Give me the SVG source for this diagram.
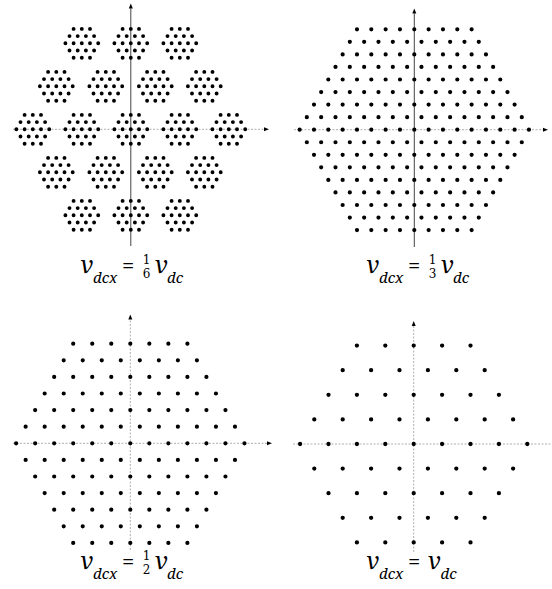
<svg xmlns="http://www.w3.org/2000/svg" xmlns:xlink="http://www.w3.org/1999/xlink" width="552" height="589" viewBox="0 0 552 589">
<style>
.d1{stroke:#000;stroke-width:3.9;stroke-linecap:round;stroke-dasharray:0 8.2;fill:none}
.d2{stroke:#000;stroke-width:4.2;stroke-linecap:round;stroke-dasharray:0 14.33;fill:none}
.d3{stroke:#000;stroke-width:4.2;stroke-linecap:round;stroke-dasharray:0 19.03;fill:none}
.d4{stroke:#000;stroke-width:4.3;stroke-linecap:round;stroke-dasharray:0 28.4;fill:none}
.axd{stroke:#444;stroke-width:1;fill:none}
.axl{stroke:#999;stroke-width:0.8;stroke-dasharray:2 1.5;fill:none}
.fr{font-family:'DejaVu Serif',serif;font-size:12px;text-anchor:middle}
</style>
<defs>
<marker id="ar" markerUnits="userSpaceOnUse" markerWidth="6" markerHeight="6" refX="0" refY="0" viewBox="0 -3 6 6" orient="auto" overflow="visible">
<path d="M0,-2 L5,0 L0,2 Z" fill="#000"/>
</marker>
<g id="cl">
<line class="d1" x1="-8.2" y1="-14.4" x2="8.7" y2="-14.4"/>
<line class="d1" x1="-12.3" y1="-7.2" x2="12.8" y2="-7.2"/>
<line class="d1" x1="-16.4" y1="0" x2="16.9" y2="0"/>
<line class="d1" x1="-12.3" y1="7.2" x2="12.8" y2="7.2"/>
<line class="d1" x1="-8.2" y1="14.4" x2="8.7" y2="14.4"/>
</g>
</defs>

<g id="connectors">
<line class="axl" x1="13" y1="129.3" x2="264" y2="129.3" marker-end="url(#ar)"/>
<line class="axd" x1="130.8" y1="246" x2="130.8" y2="8.5" marker-end="url(#ar)"/>
<line class="axl" x1="294" y1="129.7" x2="543" y2="129.7" marker-end="url(#ar)"/>
<line class="axd" x1="414.3" y1="247" x2="414.3" y2="13.5" marker-end="url(#ar)"/>
<line class="axl" x1="13" y1="443.3" x2="267" y2="443.3" marker-end="url(#ar)"/>
<line class="axl" x1="130.3" y1="550" x2="130.3" y2="319.5" marker-end="url(#ar)"/>
<line class="axl" x1="293" y1="444" x2="552" y2="444"/>
<line class="axl" x1="413.7" y1="552" x2="413.7" y2="326" marker-end="url(#ar)"/>
</g>

<g id="panel1">
<use xlink:href="#cl" x="81.8" y="43.3"/>
<use xlink:href="#cl" x="130.8" y="43.3"/>
<use xlink:href="#cl" x="179.8" y="43.3"/>
<use xlink:href="#cl" x="56.3" y="86.3"/>
<use xlink:href="#cl" x="105.8" y="86.3"/>
<use xlink:href="#cl" x="155.3" y="86.3"/>
<use xlink:href="#cl" x="204.3" y="86.3"/>
<use xlink:href="#cl" x="32.8" y="129.3"/>
<use xlink:href="#cl" x="81.8" y="129.3"/>
<use xlink:href="#cl" x="130.8" y="129.3"/>
<use xlink:href="#cl" x="179.8" y="129.3"/>
<use xlink:href="#cl" x="228.8" y="129.3"/>
<use xlink:href="#cl" x="56.3" y="172.3"/>
<use xlink:href="#cl" x="105.8" y="172.3"/>
<use xlink:href="#cl" x="155.3" y="172.3"/>
<use xlink:href="#cl" x="204.3" y="172.3"/>
<use xlink:href="#cl" x="81.8" y="215.3"/>
<use xlink:href="#cl" x="130.8" y="215.3"/>
<use xlink:href="#cl" x="179.8" y="215.3"/>
</g>

<g id="panel2">
<line class="d2" x1="356.98" y1="29.3" x2="472.4" y2="29.3"/>
<line class="d2" x1="349.82" y1="41.85" x2="479.6" y2="41.85"/>
<line class="d2" x1="342.65" y1="54.4" x2="486.8" y2="54.4"/>
<line class="d2" x1="335.49" y1="66.95" x2="493.9" y2="66.95"/>
<line class="d2" x1="328.32" y1="79.5" x2="501.1" y2="79.5"/>
<line class="d2" x1="321.16" y1="92.05" x2="508.3" y2="92.05"/>
<line class="d2" x1="313.99" y1="104.6" x2="515.4" y2="104.6"/>
<line class="d2" x1="306.83" y1="117.15" x2="522.6" y2="117.15"/>
<line class="d2" x1="299.66" y1="129.7" x2="529.7" y2="129.7"/>
<line class="d2" x1="306.83" y1="142.25" x2="522.6" y2="142.25"/>
<line class="d2" x1="313.99" y1="154.8" x2="515.4" y2="154.8"/>
<line class="d2" x1="321.16" y1="167.35" x2="508.3" y2="167.35"/>
<line class="d2" x1="328.32" y1="179.9" x2="501.1" y2="179.9"/>
<line class="d2" x1="335.49" y1="192.45" x2="493.9" y2="192.45"/>
<line class="d2" x1="342.65" y1="205" x2="486.8" y2="205"/>
<line class="d2" x1="349.82" y1="217.55" x2="479.6" y2="217.55"/>
<line class="d2" x1="356.98" y1="230.1" x2="472.4" y2="230.1"/>
</g>

<g id="panel3">
<line class="d3" x1="73.21" y1="343.7" x2="188.2" y2="343.7"/>
<line class="d3" x1="63.70" y1="360.3" x2="197.7" y2="360.3"/>
<line class="d3" x1="54.18" y1="376.9" x2="207.2" y2="376.9"/>
<line class="d3" x1="44.67" y1="393.5" x2="216.7" y2="393.5"/>
<line class="d3" x1="35.15" y1="410.1" x2="226.2" y2="410.1"/>
<line class="d3" x1="25.64" y1="426.7" x2="235.8" y2="426.7"/>
<line class="d3" x1="16.12" y1="443.3" x2="245.3" y2="443.3"/>
<line class="d3" x1="25.64" y1="459.9" x2="235.8" y2="459.9"/>
<line class="d3" x1="35.15" y1="476.5" x2="226.2" y2="476.5"/>
<line class="d3" x1="44.67" y1="493.1" x2="216.7" y2="493.1"/>
<line class="d3" x1="54.18" y1="509.7" x2="207.2" y2="509.7"/>
<line class="d3" x1="63.70" y1="526.3" x2="197.7" y2="526.3"/>
<line class="d3" x1="73.21" y1="542.9" x2="188.2" y2="542.9"/>
</g>

<g id="panel4">
<line class="d4" x1="356.9" y1="345.6" x2="471.3" y2="345.6"/>
<line class="d4" x1="342.7" y1="370.2" x2="485.5" y2="370.2"/>
<line class="d4" x1="328.5" y1="394.8" x2="499.7" y2="394.8"/>
<line class="d4" x1="314.3" y1="419.4" x2="513.9" y2="419.4"/>
<line class="d4" x1="300.1" y1="444" x2="528.1" y2="444"/>
<line class="d4" x1="314.3" y1="468.6" x2="513.9" y2="468.6"/>
<line class="d4" x1="328.5" y1="493.2" x2="499.7" y2="493.2"/>
<line class="d4" x1="342.7" y1="517.8" x2="485.5" y2="517.8"/>
<line class="d4" x1="356.9" y1="542.4" x2="471.3" y2="542.4"/>
</g>

<g id="label1" font-family="'Noto Serif', 'DejaVu Serif', serif" fill="#000">
<text font-style="italic" font-size="24"><tspan x="80.5" y="273">v</tspan><tspan font-size="15" x="93" y="282.5">dcx</tspan></text>
<text font-size="22" x="122" y="273">=</text>
<text class="fr" x="146.5" y="263.5">1</text>
<text class="fr" x="146.5" y="278">6</text>
<text font-style="italic" font-size="24"><tspan x="155" y="273">v</tspan><tspan font-size="15" x="167" y="282.5">dc</tspan></text>
</g>
<g id="label2" font-family="'Noto Serif', 'DejaVu Serif', serif" fill="#000">
<text font-style="italic" font-size="24"><tspan x="366.5" y="273">v</tspan><tspan font-size="15" x="379" y="282.5">dcx</tspan></text>
<text font-size="22" x="408" y="273">=</text>
<text class="fr" x="432.5" y="263.5">1</text>
<text class="fr" x="432.5" y="278">3</text>
<text font-style="italic" font-size="24"><tspan x="441" y="273">v</tspan><tspan font-size="15" x="453" y="282.5">dc</tspan></text>
</g>
<g id="label3" font-family="'Noto Serif', 'DejaVu Serif', serif" fill="#000">
<text font-style="italic" font-size="24"><tspan x="80.5" y="569">v</tspan><tspan font-size="15" x="93" y="578.5">dcx</tspan></text>
<text font-size="22" x="122" y="569">=</text>
<text class="fr" x="146.5" y="559.5">1</text>
<text class="fr" x="146.5" y="574">2</text>
<text font-style="italic" font-size="24"><tspan x="155" y="569">v</tspan><tspan font-size="15" x="167" y="578.5">dc</tspan></text>
</g>
<g id="label4" font-family="'Noto Serif', 'DejaVu Serif', serif" fill="#000">
<text font-style="italic" font-size="24"><tspan x="366.5" y="569">v</tspan><tspan font-size="15" x="379" y="578.5">dcx</tspan></text>
<text font-size="22" x="408" y="569">=</text>
<text font-style="italic" font-size="24"><tspan x="428" y="569">v</tspan><tspan font-size="15" x="440.5" y="578.5">dc</tspan></text>
</g>
</svg>
